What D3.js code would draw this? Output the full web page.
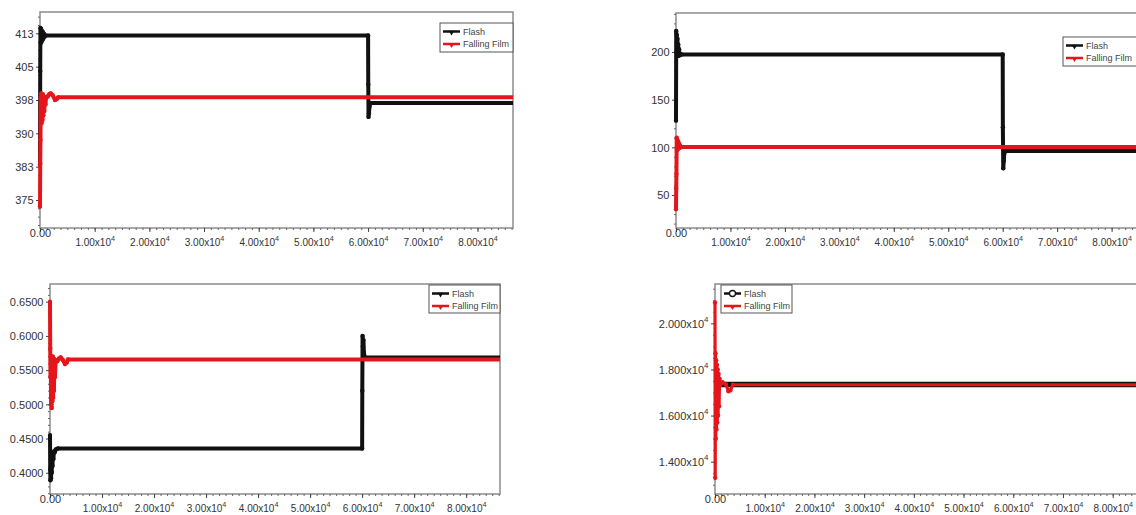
<!DOCTYPE html>
<html>
<head>
<meta charset="utf-8">
<script src="https://cdn.jsdelivr.net/npm/d3@7"></script>
<style>
  body { margin: 0; background: #fff; }
  svg { display: block; font-family: Arial, "Liberation Sans", sans-serif; }
</style>
</head>
<body>
<svg id="chart" width="1136" height="515"></svg>
<script>
// shared time axis
const timeTicks = [0, 10000, 20000, 30000, 40000, 50000, 60000, 70000, 80000];
const timeMax = 86500;
const seriesNames = ["Flash", "Falling Film"];

// top left panel
const aTicks = [375, 382.5, 390, 397.5, 405, 412.5];
const aFlash = [[0,383],[40,404],[80,413.7],[140,410.3],[200,413.5],[270,410.6],[340,413],[420,411],[500,412.8],[600,411.3],[720,412.4],[850,411.8],[1000,412],[60000,412],[60030,401],[60080,393.7],[60150,394.5],[60250,396],[60400,396.8],[86500,396.8]];
const aFilm = [[0,373.5],[40,383.3],[80,388.5],[130,398],[180,394],[240,399],[300,392.3],[370,398.5],[440,393],[520,398.8],[600,394],[690,398.3],[780,395],[880,397.8],[1000,396.5],[1100,398],[1400,398.3],[1700,398.8],[1950,399],[2300,398.6],[2750,397.5],[3050,397.7],[3300,398.1],[86500,398.1]];

// top right panel
const bTicks = [50, 100, 150, 200];
const bFlash = [[0,128],[40,222],[90,200],[140,218],[200,196],[260,214],[330,197],[400,208],[480,196],[560,203],[650,196.5],[800,198],[1000,197.3],[60000,197.3],[60030,121],[60100,78],[60200,86],[60300,94],[60500,96.1],[86500,96.1]];
const bFilm = [[0,35],[40,57],[80,72],[130,110],[190,97],[250,108],[320,98],[390,106],[460,99],[540,104],[620,99.5],[720,102],[850,100],[1000,100.5],[1300,100.3],[86500,100.3]];

// bottom left panel
const cTicks = [0.40, 0.45, 0.50, 0.55, 0.60, 0.65];
const cFlash = [[0,0.455],[40,0.405],[80,0.389],[140,0.402],[200,0.392],[260,0.415],[330,0.400],[400,0.422],[480,0.41],[560,0.428],[650,0.42],[760,0.431],[900,0.43],[1100,0.434],[1540,0.4355],[60000,0.4355],[60030,0.52],[60080,0.60],[60150,0.585],[60250,0.594],[60350,0.575],[60500,0.5686],[86500,0.5686]];
const cFilm = [[0,0.65],[40,0.582],[90,0.54],[140,0.57],[200,0.50],[260,0.568],[320,0.4945],[390,0.565],[460,0.505],[530,0.57],[600,0.51],[680,0.563],[760,0.52],[850,0.566],[960,0.54],[1100,0.565],[1400,0.563],[1750,0.567],[2050,0.5686],[2450,0.565],[2880,0.5588],[3200,0.561],[3460,0.5656],[86500,0.5656]];

// bottom right panel
const dTicks = [14000, 16000, 18000, 20000];
const dFlash = [[1300,17345],[86500,17345]];
const dFilm = [[0,20900],[40,13300],[100,18700],[160,15000],[230,18400],[300,15400],[380,18200],[460,15700],[540,18000],[620,16000],[720,17800],[820,16400],[920,17600],[1000,17300],[1500,17450],[2200,17350],[2700,17050],[3100,17100],[3600,17336],[86500,17336]];

const black = "#111";
const red = "#e3161b";

const panels = [
  { box: {l: 40, t: 12, r: 513, b: 228}, yDomain: [368.7, 417.3], yTicks: aTicks, yMinorDiv: 4,
    yFmt: d => [d3.format(".0f")(d), null], flash: aFlash, film: aFilm,
    legend: {x: 440, y: 23, w: 73, h: 29}, flashCircle: false },
  { box: {l: 676, t: 13, r: 1147, b: 228}, yDomain: [15.4, 240.9], yTicks: bTicks, yMinorDiv: 5,
    yFmt: d => [String(d), null], flash: bFlash, film: bFilm,
    legend: {x: 1063, y: 37, w: 74, h: 29}, flashCircle: false },
  { box: {l: 50, t: 284, r: 500, b: 494}, yDomain: [0.3689, 0.6759], yTicks: cTicks, yMinorDiv: 5,
    yFmt: d => [d3.format(".4f")(d), null], flash: cFlash, film: cFilm,
    legend: {x: 429, y: 285, w: 71, h: 28}, flashCircle: false },
  { box: {l: 715, t: 284, r: 1145, b: 494}, yDomain: [12599, 21705], yTicks: dTicks, yMinorDiv: 4,
    yFmt: d => [(d / 1e4).toFixed(3) + "x10", "4"], flash: dFlash, film: dFilm,
    legend: {x: 721, y: 285, w: 71, h: 28}, flashCircle: true, flashWidth: 5.5, filmWidth: 3.2 }
];

const svg = d3.select("#chart");

function setLabel(sel, parts) {
  sel.text(parts[0]);
  if (parts[1]) {
    sel.append("tspan").attr("dy", "-0.75em").attr("font-size", "0.72em").text(parts[1]);
  }
}

panels.forEach(p => {
  const b = p.box;
  const x = d3.scaleLinear().domain([0, timeMax]).range([b.l, b.r]);
  const y = d3.scaleLinear().domain(p.yDomain).range([b.b, b.t]);
  const g = svg.append("g");

  // frame
  g.append("rect")
    .attr("x", b.l).attr("y", b.t)
    .attr("width", b.r - b.l).attr("height", b.b - b.t)
    .attr("fill", "none").attr("stroke", "#8c8c8c").attr("stroke-width", 1.5);

  // minor ticks
  const xMinor = d3.range(0, timeMax, 1250);
  g.append("g").attr("transform", "translate(0," + b.b + ")")
    .call(d3.axisBottom(x).tickValues(xMinor).tickSize(2).tickFormat(""))
    .call(s => s.select(".domain").remove())
    .call(s => s.selectAll("line").attr("stroke", "#666"));

  const step = p.yTicks[1] - p.yTicks[0];
  const yMinor = [];
  for (let v = p.yTicks[0] - step; v <= p.yTicks[p.yTicks.length - 1] + step; v += step / p.yMinorDiv) {
    if (v >= p.yDomain[0] && v <= p.yDomain[1]) yMinor.push(v);
  }
  g.append("g").attr("transform", "translate(" + b.l + ",0)")
    .call(d3.axisLeft(y).tickValues(yMinor).tickSize(2).tickFormat(""))
    .call(s => s.select(".domain").remove())
    .call(s => s.selectAll("line").attr("stroke", "#666"));

  // major x axis
  g.append("g").attr("transform", "translate(0," + b.b + ")")
    .call(d3.axisBottom(x).tickValues(timeTicks).tickSize(4).tickFormat(""))
    .call(s => s.select(".domain").remove())
    .call(s => s.selectAll("line").attr("stroke", "#444"))
    .call(s => s.selectAll(".tick").append("text")
      .attr("fill", "#333").attr("font-size", d => d === 0 ? 11 : 10).attr("text-anchor", "middle")
      .attr("y", d => d === 0 ? 9 : 18)
      .each(function(d) {
        setLabel(d3.select(this), d === 0 ? ["0.00", null] : [(d / 1e4).toFixed(2) + "x10", "4"]);
      }));

  // major y axis
  g.append("g").attr("transform", "translate(" + b.l + ",0)")
    .call(d3.axisLeft(y).tickValues(p.yTicks).tickSize(4).tickFormat(""))
    .call(s => s.select(".domain").remove())
    .call(s => s.selectAll("line").attr("stroke", "#444"))
    .call(s => s.selectAll(".tick").append("text")
      .attr("fill", "#333").attr("font-size", 11).attr("text-anchor", "end")
      .attr("x", -6.5).attr("dy", "0.35em")
      .each(function(d) { setLabel(d3.select(this), p.yFmt(d)); }));

  // series
  const line = d3.line().x(d => x(d[0])).y(d => y(d[1]));
  const series = [
    {data: p.flash, color: black, w: p.flashWidth || 4},
    {data: p.film, color: red, w: p.filmWidth || 4}
  ];
  series.forEach(s => {
    g.append("path").datum(s.data)
      .attr("d", line).attr("fill", "none")
      .attr("stroke", s.color).attr("stroke-width", s.w)
      .attr("stroke-linejoin", "round");
    g.append("g").selectAll("circle").data(s.data.slice(0, -1)).join("circle")
      .attr("cx", d => x(d[0])).attr("cy", d => y(d[1]))
      .attr("r", 2.2).attr("fill", s.color);
  });

  // legend
  const L = p.legend;
  const lg = g.append("g").attr("transform", "translate(" + L.x + "," + L.y + ")");
  lg.append("rect").attr("width", L.w).attr("height", L.h)
    .attr("fill", "#fff").attr("stroke", "#555").attr("stroke-width", 1);
  seriesNames.forEach((name, i) => {
    const cy = 8.5 + i * 12.5;
    const col = i === 0 ? black : red;
    lg.append("line").attr("x1", 3).attr("x2", 20).attr("y1", cy).attr("y2", cy)
      .attr("stroke", col).attr("stroke-width", 2.5);
    if (i === 0 && p.flashCircle) {
      lg.append("circle").attr("cx", 11.5).attr("cy", cy).attr("r", 3)
        .attr("fill", "#fff").attr("stroke", col).attr("stroke-width", 1.3);
    } else {
      lg.append("path").attr("d", d3.symbol(d3.symbolTriangle, 14)())
        .attr("transform", "translate(11.5," + (cy + 0.8) + ") rotate(180)")
        .attr("fill", col);
    }
    lg.append("text").attr("x", 23).attr("y", cy).attr("dy", "0.35em")
      .attr("font-size", 9).attr("fill", "#444").text(name);
  });
});
</script>
</body>
</html>
